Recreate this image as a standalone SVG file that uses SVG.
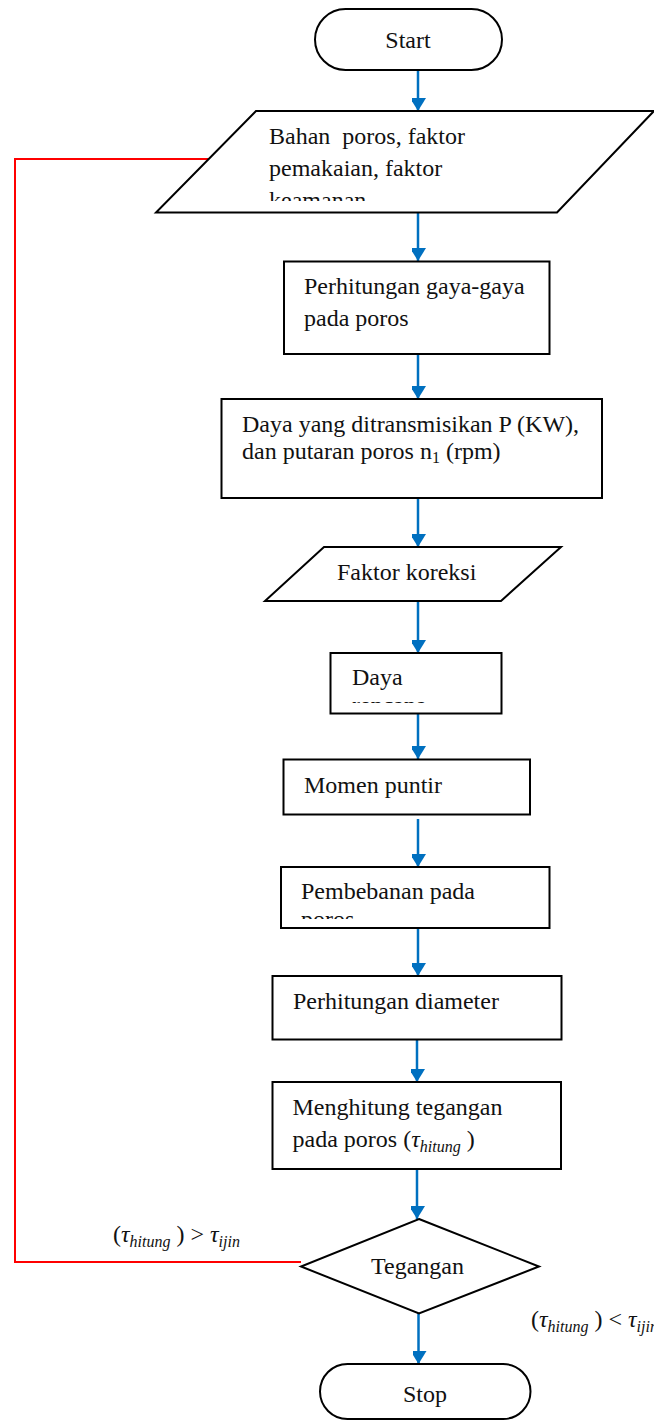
<svg xmlns="http://www.w3.org/2000/svg" width="654" height="1420" viewBox="0 0 654 1420">
  <style>
    .shape { fill: #ffffff; stroke: #000000; stroke-width: 2; }
    .lbl { font-family: "Liberation Serif", "Times New Roman", serif; font-size: 24px; fill: #111111; white-space: pre; }
    .mid { text-anchor: middle; }
    .it { font-style: italic; }
    .sub { font-size: 16px; }
    .flow { fill: none; stroke: #0070C0; stroke-width: 2.5; }
    .loop { fill: none; stroke: #FF0000; stroke-width: 2; }
  </style>
  <defs>
    <marker id="arrow" markerUnits="userSpaceOnUse" markerWidth="16" markerHeight="14" refX="13" refY="8" orient="auto">
      <path d="M0,0 L13,8 L0,16 Z" fill="#0070C0"/>
    </marker>
    <clipPath id="clipInput"><rect x="150" y="112" width="504" height="89"/></clipPath>
    <clipPath id="clipDaya"><rect x="331" y="654" width="170" height="49"/></clipPath>
    <clipPath id="clipBeban"><rect x="282" y="868" width="267" height="51"/></clipPath>
  </defs>

  <!-- connectors -->
  <g id="connectors">
    <line class="flow" x1="418" y1="70" x2="418" y2="111" marker-end="url(#arrow)"/>
    <line class="flow" x1="418" y1="213" x2="418" y2="261" marker-end="url(#arrow)"/>
    <line class="flow" x1="418" y1="354" x2="418" y2="399" marker-end="url(#arrow)"/>
    <line class="flow" x1="418" y1="498" x2="418" y2="547" marker-end="url(#arrow)"/>
    <line class="flow" x1="418" y1="601" x2="418" y2="653" marker-end="url(#arrow)"/>
    <line class="flow" x1="418" y1="713" x2="418" y2="759" marker-end="url(#arrow)"/>
    <line class="flow" x1="418" y1="819" x2="418" y2="867" marker-end="url(#arrow)"/>
    <line class="flow" x1="418" y1="928" x2="418" y2="976" marker-end="url(#arrow)"/>
    <line class="flow" x1="417" y1="1040" x2="417" y2="1082" marker-end="url(#arrow)"/>
    <line class="flow" x1="417" y1="1169" x2="417" y2="1219" marker-end="url(#arrow)"/>
    <line class="flow" x1="418.5" y1="1313" x2="418.5" y2="1364" marker-end="url(#arrow)"/>
    <polyline class="loop" points="301,1262 15,1262 15,159 208.5,159"/>
    <text class="lbl" x="113" y="1242">(<tspan class="it">τ</tspan><tspan class="it sub" dy="5">hitung</tspan><tspan dy="-5"> ) &gt; </tspan><tspan class="it">τ</tspan><tspan class="it sub" dy="5">ijin</tspan></text>
    <text class="lbl" x="531" y="1327">(<tspan class="it">τ</tspan><tspan class="it sub" dy="5">hitung</tspan><tspan dy="-5"> ) &lt; </tspan><tspan class="it">τ</tspan><tspan class="it sub" dy="5">ijin</tspan></text>
  </g>

  <g id="start">
    <rect class="shape" x="315" y="9" width="187" height="61" rx="30.5" ry="30.5"/>
    <text class="lbl mid" x="408" y="48">Start</text>
  </g>

  <g id="input-bahan">
    <polygon class="shape" points="256,111 654,111 557,212.5 156,212.5"/>
    <g clip-path="url(#clipInput)">
      <text class="lbl" x="269" y="144" xml:space="preserve">Bahan  poros, faktor</text>
      <text class="lbl" x="269" y="176">pemakaian, faktor</text>
      <text class="lbl" x="269" y="208">keamanan</text>
    </g>
  </g>

  <g id="gaya">
    <rect class="shape" x="284" y="261.5" width="265.5" height="92.5"/>
    <text class="lbl" x="304" y="294">Perhitungan gaya-gaya</text>
    <text class="lbl" x="304" y="326">pada poros</text>
  </g>

  <g id="daya-transmisi">
    <rect class="shape" x="221.5" y="399" width="380.5" height="99"/>
    <text class="lbl" x="242" y="432">Daya yang ditransmisikan P (KW),</text>
    <text class="lbl" x="242" y="459">dan putaran poros n<tspan class="sub" dy="4">1</tspan><tspan dy="-4"> (rpm)</tspan></text>
  </g>

  <g id="input-koreksi">
    <polygon class="shape" points="324,547 561,547 501,601 265,601"/>
    <text class="lbl" x="337" y="580">Faktor koreksi</text>
  </g>

  <g id="daya-rencana">
    <rect class="shape" x="330.5" y="653" width="171" height="60.5"/>
    <g clip-path="url(#clipDaya)">
      <text class="lbl" x="352" y="685">Daya</text>
      <text class="lbl" x="352" y="713">rencana</text>
    </g>
  </g>

  <g id="momen">
    <rect class="shape" x="283.5" y="759.5" width="246.5" height="55"/>
    <text class="lbl" x="304" y="793">Momen puntir</text>
  </g>

  <g id="pembebanan">
    <rect class="shape" x="281" y="867" width="268.5" height="61"/>
    <g clip-path="url(#clipBeban)">
      <text class="lbl" x="301" y="899">Pembebanan pada</text>
      <text class="lbl" x="301" y="927">poros</text>
    </g>
  </g>

  <g id="diameter">
    <rect class="shape" x="272.5" y="976" width="289" height="63.5"/>
    <text class="lbl" x="293" y="1009">Perhitungan diameter</text>
  </g>

  <g id="tegangan-hitung">
    <rect class="shape" x="272.5" y="1082" width="288.5" height="87"/>
    <text class="lbl" x="292.5" y="1115">Menghitung tegangan</text>
    <text class="lbl" x="292.5" y="1147">pada poros (<tspan class="it">τ</tspan><tspan class="it sub" dy="5">hitung</tspan><tspan dy="-5"> )</tspan></text>
  </g>

  <g id="cek-tegangan">
    <polygon class="shape" points="419,1219 539,1266.5 419,1313.5 301,1266.5"/>
    <text class="lbl mid" x="417.5" y="1274">Tegangan</text>
  </g>

  <g id="stop">
    <rect class="shape" x="320" y="1364" width="210.5" height="55" rx="27.5" ry="27.5"/>
    <text class="lbl mid" x="425" y="1402">Stop</text>
  </g>
</svg>
